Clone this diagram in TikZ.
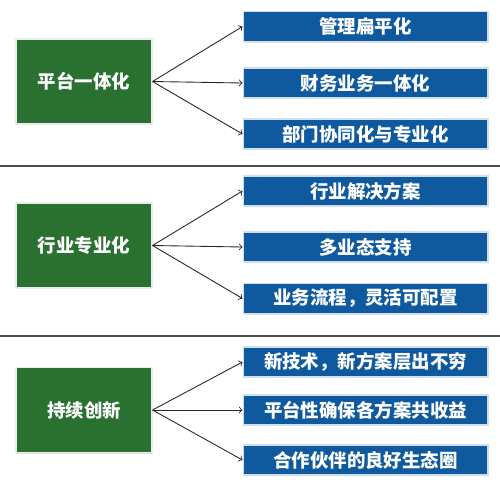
\documentclass[tikz,border=0pt]{standalone}
\usepackage{fontspec}
\setmainfont{Noto Sans CJK SC}
\usetikzlibrary{shadows}
\definecolor{zhugreen}{HTML}{2A7030}
\definecolor{zhublue}{HTML}{0F5A9E}

\begin{document}
\begin{tikzpicture}[x=0.02cm, y=-0.02cm,
  zhu/.style={draw=white!85!gray, line width=0.6pt, fill=zhugreen, text=white,
    font=\bfseries\fontsize{10.5}{12}\selectfont, minimum width=2.72cm, minimum height=1.7cm,
    inner sep=0pt, drop shadow={opacity=0.25, shadow xshift=0.8pt, shadow yshift=-0.8pt}},
  fen/.style={draw=white!80!zhublue, line width=0.6pt, fill=zhublue, text=white,
    font=\bfseries\fontsize{10.5}{12}\selectfont, minimum width=4.9cm, minimum height=0.6cm,
    inner sep=0pt, drop shadow={opacity=0.25, shadow xshift=0.8pt, shadow yshift=-0.8pt}},
  jian/.style={->, draw=black!85, line width=0.5pt}]
\useasboundingbox (0,0) rectangle (500,481);

% 分隔线
\draw[black!70, line width=1pt] (0,166) -- (500,166);
\draw[black!70, line width=1pt] (0,336) -- (500,336);

% 定义节点
\node[zhu] (p) at (84, 81.5) {平台一体化};
\node[fen] (p1) at (365.5, 26.5) {管理扁平化};
\node[fen] (p2) at (365.5, 83) {财务业务一体化};
\node[fen] (p3) at (365.5, 134) {部门协同化与专业化};

\node[zhu] (h) at (84, 245.5) {行业专业化};
\node[fen] (h1) at (365.5, 191) {行业解决方案};
\node[fen] (h2) at (365.5, 247) {多业态支持};
\node[fen] (h3) at (365.5, 298.5) {业务流程，灵活可配置};

\node[zhu] (c) at (84, 410) {持续创新};
\node[fen] (c1) at (365.5, 362) {新技术，新方案层出不穷};
\node[fen] (c2) at (365.5, 410) {平台性确保各方案共收益};
\node[fen] (c3) at (365.5, 460) {合作伙伴的良好生态圈};

% 连接节点
\draw[jian] (p.east) -- (p1.west);
\draw[jian] (p.east) -- (p2.west);
\draw[jian] (p.east) -- (p3.west);
\draw[jian] (h.east) -- (h1.west);
\draw[jian] (h.east) -- (h2.west);
\draw[jian] (h.east) -- (h3.west);
\draw[jian] (c.east) -- (c1.west);
\draw[jian] (c.east) -- (c2.west);
\draw[jian] (c.east) -- (c3.west);

\end{tikzpicture}
\end{document}
